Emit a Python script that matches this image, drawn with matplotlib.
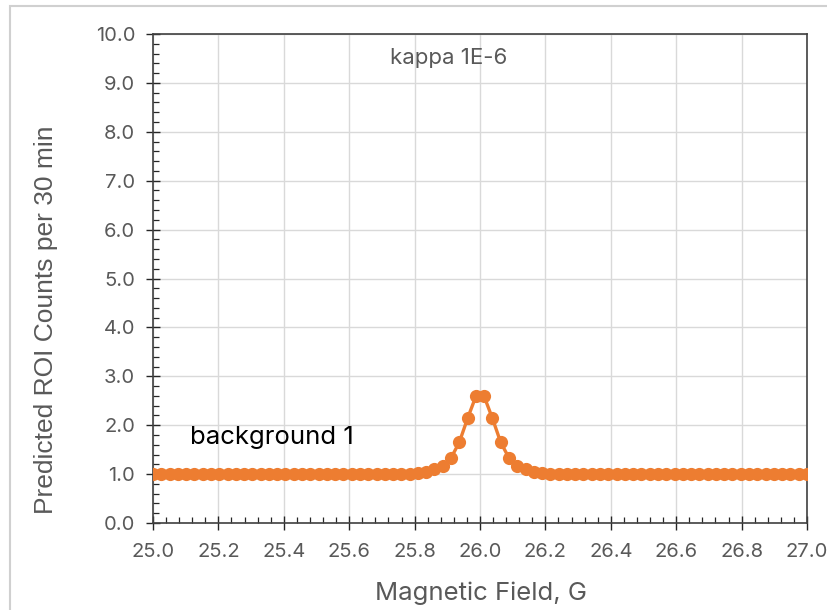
import numpy as np
import matplotlib
matplotlib.use('Agg')
import matplotlib.pyplot as plt
from matplotlib.patches import Rectangle
from matplotlib.ticker import MultipleLocator, FormatStrFormatter

# scan over magnetic field, 80 evenly spaced points from 25 to 27 G
field = np.linspace(25.0, 27.0, 80)
counts = [1.0] * 31 + [1.01, 1.02, 1.05, 1.10, 1.16, 1.33, 1.65, 2.14, 2.59,
                       2.59, 2.14, 1.65, 1.33, 1.16, 1.10, 1.05, 1.02, 1.01] + [1.0] * 31

series_label = 'kappa 1E-6'
note = 'background 1'
xlabel = 'Magnetic Field, G'
ylabel = 'Predicted ROI Counts per 30 min'

orange = '#ED7D31'
gray = '#595959'

plt.rcParams['font.family'] = ['Inter', 'DejaVu Sans']

fig = plt.figure(figsize=(8.28, 6.10), dpi=100)
ax = fig.add_axes([153 / 828, 1 - 523 / 610, 654 / 828, 489 / 610])

# chart border (light gray, partly off the picture)
fig.patches.append(Rectangle((10 / 828, -0.1), 1.2, 1.1 - 6 / 610,
                             transform=fig.transFigure, fill=False,
                             edgecolor='#D0D0D0', lw=1.5))

ax.plot(field, counts, color=orange, lw=2.4, marker='o', ms=9.5,
        markeredgewidth=0, zorder=3)

ax.set_xlim(25.0, 27.0)
ax.set_ylim(0, 10)
ax.xaxis.set_major_locator(MultipleLocator(0.2))
ax.xaxis.set_minor_locator(MultipleLocator(0.04))
ax.yaxis.set_major_locator(MultipleLocator(1.0))
ax.yaxis.set_minor_locator(MultipleLocator(0.2))
ax.xaxis.set_major_formatter(FormatStrFormatter('%.1f'))
ax.yaxis.set_major_formatter(FormatStrFormatter('%.1f'))

ax.grid(True, which='major', color='#D9D9D9', lw=1.0)
ax.set_axisbelow(True)
for s in ax.spines.values():
    s.set_color('#404040')
    s.set_linewidth(1.2)

ax.tick_params(which='major', direction='inout', length=9.5, width=1.0,
               color='#262626', labelsize=14.5, labelcolor=gray)
ax.tick_params(axis='x', which='major', pad=10)
ax.tick_params(axis='y', which='major', pad=8)
ax.tick_params(which='minor', direction='in', length=4, width=0.9,
               color='#262626')

fig.text(481 / 828, 1 - 593 / 610, xlabel, ha='center', va='center',
         fontsize=18.5, color=gray)
fig.text(46 / 828, 1 - 320 / 610, ylabel, ha='center', va='center',
         rotation=90, fontsize=19, color=gray, family=['Liberation Sans'])

ax.text(0.452, 0.951, series_label, transform=ax.transAxes, ha='center',
        va='center', fontsize=16, color=gray)
ax.text(0.0566, 0.174, note, transform=ax.transAxes, ha='left',
        va='center', fontsize=18.5, color='black')

fig.savefig('out.png', dpi=100)
